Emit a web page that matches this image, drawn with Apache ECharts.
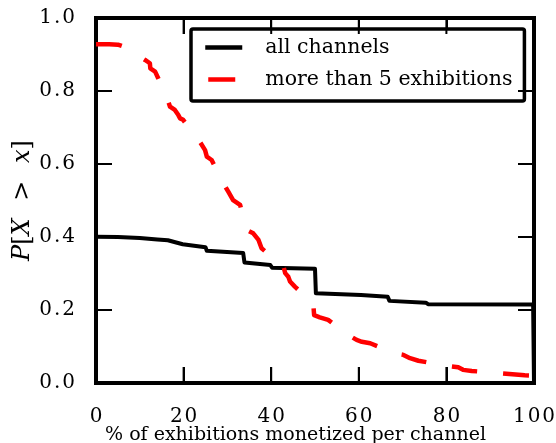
<!DOCTYPE html>
<html>
<head>
<meta charset="utf-8">
<script src="https://cdn.jsdelivr.net/npm/echarts@6/dist/echarts.min.js"></script>
<style>
  html, body { margin: 0; padding: 0; background: #ffffff; }
  #chart { width: 556px; height: 443px; }
</style>
</head>
<body>
<div id="chart"></div>
<script>
// Tick values for both axes
const xTicks = [0, 20, 40, 60, 80, 100];
const yTicks = [0.0, 0.2, 0.4, 0.6, 0.8, 1.0];

// Series names and axis titles
const seriesNames = ['all channels', 'more than 5 exhibitions'];
const xTitle = '% of exhibitions monetized per channel';

// Complementary CDF, all channels (step curve)
const allX = [0, 5, 10, 14, 16.4, 16.7, 19.8, 20.1, 25.0, 25.3, 33.6, 33.9, 39.8, 40.2, 50.0, 50.2, 60.5, 60.8, 66.6, 67.0, 75.3, 75.8, 99.8, 100, 100];
const allY = [0.401, 0.400, 0.397, 0.393, 0.391, 0.386, 0.380, 0.376, 0.372, 0.362, 0.356, 0.330, 0.323, 0.316, 0.313, 0.246, 0.241, 0.237, 0.236, 0.225, 0.220, 0.216, 0.215, 0.215, 0.0];

// Complementary CDF, channels with more than 5 exhibitions
const moreX = [0, 3, 5, 6.2, 11.2, 12.3, 12.4, 13.5, 14.2, 16.5, 16.9, 18.0, 18.8, 19.2, 19.9, 21.8, 23.7, 24.9, 25.3, 26.4, 29.1, 30.2, 31.3, 32.9, 34.4, 35.9, 37.1, 37.8, 42.8, 43.2, 43.9, 44.3, 45.4, 49.6, 49.8, 51.1, 53.0, 57.6, 59.5, 60.7, 62.6, 68.3, 70.2, 71.7, 73.6, 80.1, 82.7, 83.8, 85.8, 92.2, 97.9, 100];
const moreY = [0.928, 0.928, 0.927, 0.922, 0.885, 0.876, 0.862, 0.853, 0.835, 0.771, 0.757, 0.748, 0.734, 0.725, 0.721, 0.690, 0.661, 0.638, 0.620, 0.611, 0.547, 0.524, 0.501, 0.488, 0.419, 0.410, 0.392, 0.369, 0.319, 0.301, 0.291, 0.278, 0.264, 0.218, 0.186, 0.180, 0.173, 0.1315, 0.118, 0.113, 0.109, 0.081, 0.077, 0.068, 0.061, 0.047, 0.043, 0.036, 0.033, 0.027, 0.021, 0.020];

const FONT = 'DejaVu Serif';
const TICK_LEN = 16;
const pair = (xs, ys) => xs.map((x, i) => [x, ys[i]]);
// Slightly spread digits, like typeset math tick labels
const spread = s => s.split('').join('\u200A');

// Every side of the frame is an axis line
const frameLine = () => ({ show: true, onZero: false, lineStyle: { color: '#000', width: 4, cap: 'square' } });
const inwardTicks = () => ({ show: true, inside: true, length: TICK_LEN, lineStyle: { color: '#000000', width: 2 } });

const xRange = { type: 'value', min: xTicks[0], max: xTicks[xTicks.length - 1], interval: xTicks[1] - xTicks[0] };
const yRange = { type: 'value', min: yTicks[0], max: yTicks[yTicks.length - 1], interval: yTicks[1] - yTicks[0] };

const chart = echarts.init(document.getElementById('chart'), null, { renderer: 'canvas' });

chart.setOption({
  animation: false,
  backgroundColor: '#ffffff',
  grid: {
    left: 96, right: 22, top: 18, bottom: 60,
    outerBoundsMode: 'none',
    containLabel: false,
    show: false
  },
  legend: {
    orient: 'vertical',
    left: 191, top: 29,
    padding: [8, 12, 11, 12],
    itemGap: 11,
    itemWidth: 37, itemHeight: 20,
    borderColor: '#000', borderWidth: 3.5, borderRadius: 2,
    backgroundColor: '#ffffff',
    itemStyle: { color: 'transparent', borderWidth: 0, opacity: 0 },
    textStyle: { fontFamily: FONT, fontSize: 20.5, color: '#000', padding: [0, 0, 0, 18] },
    data: [
      { name: seriesNames[0], lineStyle: { color: '#000000', width: 4.5 } },
      { name: seriesNames[1], lineStyle: { color: '#ff0000', width: 4.5, type: [27, 20], dashOffset: 44 } }
    ]
  },
  xAxis: [
    Object.assign({}, xRange, {
      position: 'bottom',
      axisLine: frameLine(),
      axisTick: inwardTicks(),
      splitLine: { show: false },
      axisLabel: {
        margin: 24, fontFamily: FONT, fontSize: 20, color: '#000',
        formatter: v => spread(String(v))
      },
      name: xTitle,
      nameLocation: 'middle',
      nameGap: 43,
      nameMoveOverlap: false,
      nameTextStyle: { fontFamily: FONT, fontSize: 19, color: '#000', padding: [0, 39, 0, 0] }
    }),
    Object.assign({}, xRange, {
      show: true,
      position: 'top',
      axisLine: frameLine(),
      axisTick: inwardTicks(),
      splitLine: { show: false },
      axisLabel: { show: false }
    })
  ],
  yAxis: [
    Object.assign({}, yRange, {
      position: 'left',
      axisLine: frameLine(),
      axisTick: inwardTicks(),
      splitLine: { show: false },
      axisLabel: {
        margin: 21, fontFamily: FONT, fontSize: 20, color: '#000',
        formatter: v => spread(v.toFixed(1))
      },
      name: '{i|P}{r|[}{i|X}{r|\u200A  >  \u200A}{i|x}{r|]}',
      nameLocation: 'middle',
      nameRotate: 90,
      nameGap: 61,
      nameMoveOverlap: false,
      nameTextStyle: {
        rich: {
          i: { fontFamily: FONT, fontStyle: 'italic', fontSize: 24, color: '#000' },
          r: { fontFamily: FONT, fontSize: 24, color: '#000' }
        }
      }
    }),
    Object.assign({}, yRange, {
      show: true,
      position: 'right',
      axisLine: frameLine(),
      axisTick: inwardTicks(),
      splitLine: { show: false },
      axisLabel: { show: false }
    })
  ],
  series: [
    {
      name: seriesNames[0],
      type: 'line',
      data: pair(allX, allY),
      xAxisIndex: 0, yAxisIndex: 0,
      symbol: 'none', showSymbol: false,
      lineStyle: { color: '#000000', width: 4, cap: 'butt', join: 'round' },
      itemStyle: { color: '#000000' },
      z: 3
    },
    {
      name: seriesNames[1],
      type: 'line',
      data: pair(moreX, moreY),
      xAxisIndex: 1, yAxisIndex: 1,
      symbol: 'none', showSymbol: false,
      lineStyle: { color: '#ff0000', width: 4.5, type: [26, 26], cap: 'butt', join: 'round' },
      itemStyle: { color: '#ff0000' },
      z: 4
    }
  ]
});

// Extra inward tick marks on all four sides, placed through the axis scales
function addFrameTicks() {
  const toX = v => {
    const p = chart.convertToPixel({ xAxisIndex: 0 }, v);
    return Array.isArray(p) ? p[0] : p;
  };
  const toY = v => {
    const p = chart.convertToPixel({ yAxisIndex: 0 }, v);
    return Array.isArray(p) ? p[1] : p;
  };
  const yBottom = toY(yTicks[0]);
  const yTop = toY(yTicks[yTicks.length - 1]);
  const xLeft = toX(xTicks[0]);
  const xRight = toX(xTicks[xTicks.length - 1]);
  if (![yBottom, yTop, xLeft, xRight].every(Number.isFinite)) return;
  const els = [];
  const seg = (x1, y1, x2, y2) => els.push({
    type: 'line', silent: true, z: 100,
    shape: { x1: x1, y1: y1, x2: x2, y2: y2 },
    style: { stroke: '#000000', lineWidth: 2 }
  });
  xTicks.forEach(v => {
    const p = toX(v);
    seg(p, yBottom, p, yBottom - TICK_LEN);
    seg(p, yTop, p, yTop + TICK_LEN);
  });
  yTicks.forEach(v => {
    const p = toY(v);
    seg(xLeft, p, xLeft + TICK_LEN, p);
    seg(xRight, p, xRight - TICK_LEN, p);
  });
  chart.setOption({ graphic: els });
}

try {
  addFrameTicks();
} catch (e) {
  console.error(e);
}
</script>
</body>
</html>
